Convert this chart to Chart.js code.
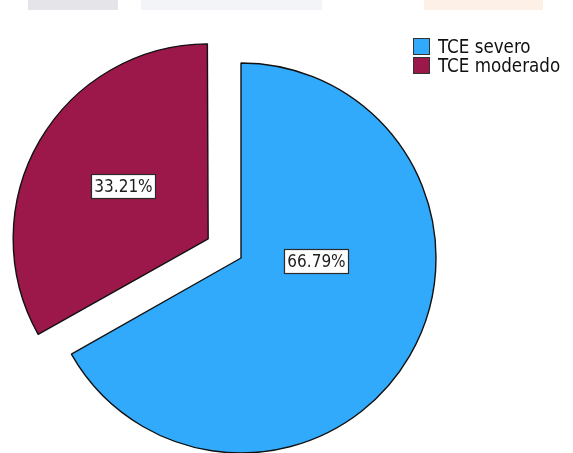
<!DOCTYPE html>
<html>
<head>
<meta charset="utf-8">
<script src="https://cdn.jsdelivr.net/npm/chart.js@4/dist/chart.umd.min.js"></script>
<style>
  html, body { margin: 0; padding: 0; background: #ffffff; }
  #wrap { position: relative; width: 573px; height: 453px; overflow: hidden; }
  canvas { position: absolute; left: 0; top: 0; }
  .band { position: absolute; top: 0; height: 10px; }
  .legend { position: absolute; left: 413px; top: 37px; font-family: "DejaVu Sans Condensed", "DejaVu Sans", sans-serif; font-stretch: condensed; font-size: 18.6px; color: #111; }
  .item { display: flex; align-items: center; height: 19px; white-space: nowrap; }
  .sw { width: 15px; height: 15px; border: 1px solid #333; margin-right: 8px; box-sizing: content-box; }
</style>
</head>
<body>
<div id="wrap">
  <div class="band" style="left:28px;width:90px;background:#e4e4e9;"></div>
  <div class="band" style="left:141px;width:181px;background:#f3f4f7;"></div>
  <div class="band" style="left:424px;width:119px;background:#fdf0e6;"></div>
  <canvas id="c" width="573" height="453"></canvas>
  <div class="legend" id="legend"></div>
</div>
<script>
const categories = ["TCE severo", "TCE moderado"];
const percentages = [66.79, 33.21];
const sliceColors = ["#31aafb", "#9c184a"];
const labelTexts = ["66.79%", "33.21%"];

// legend (HTML text)
const legendEl = document.getElementById('legend');
categories.forEach((c, i) => {
  const row = document.createElement('div');
  row.className = 'item';
  const sw = document.createElement('span');
  sw.className = 'sw';
  sw.style.background = sliceColors[i];
  const t = document.createElement('span');
  t.textContent = c;
  row.appendChild(sw); row.appendChild(t);
  legendEl.appendChild(row);
});

const explodePx = [0, 38];           // visual explode distance per slice
const labelRel = [[0.385, 0.015], [-0.449, -0.28]]; // label centre relative to slice centre, in radii

// Chart.js translates by offset/4 and enlarges radius by offset/4*fix; compensate radius
const explodeFix = {
  id: 'explodeFix',
  afterDatasetUpdate(chart, args) {
    const meta = chart.getDatasetMeta(args.index);
    meta.data.forEach((arc) => {
      const off = (arc.options.offset || 0) / 4;
      const fix = 1 - Math.sin(Math.min(Math.PI, arc.circumference || 0));
      arc.outerRadius -= off * fix;
    });
  }
};

const boxLabels = {
  id: 'boxLabels',
  afterDatasetsDraw(chart) {
    const ctx = chart.ctx;
    const meta = chart.getDatasetMeta(0);
    ctx.save();
    ctx.font = '17px "DejaVu Sans Condensed", "DejaVu Sans", sans-serif';
    ctx.textAlign = 'center';
    ctx.textBaseline = 'middle';
    meta.data.forEach((arc, i) => {
      const off = (arc.options.offset || 0) / 4;
      const half = (arc.startAngle + arc.endAngle) / 2;
      const cx = arc.x + Math.cos(half) * off;
      const cy = arc.y + Math.sin(half) * off;
      const r = arc.outerRadius;
      const lx = cx + labelRel[i][0] * r;
      const ly = cy + labelRel[i][1] * r;
      const txt = labelTexts[i];
      const w = Math.round(ctx.measureText(txt).width + 6);
      const h = 24;
      const bx = Math.round(lx - w / 2) + 0.5;
      const by = Math.round(ly - h / 2) + 0.5;
      ctx.fillStyle = '#ffffff';
      ctx.fillRect(bx, by, w, h);
      ctx.strokeStyle = '#2a2a2a';
      ctx.lineWidth = 1.2;
      ctx.strokeRect(bx, by, w, h);
      ctx.fillStyle = '#1e1e1e';
      ctx.fillText(txt, bx + w / 2, by + h / 2 + 1);
    });
    ctx.restore();
  }
};

new Chart(document.getElementById('c'), {
  type: 'pie',
  data: {
    labels: categories,
    datasets: [{
      data: percentages,
      backgroundColor: sliceColors,
      borderColor: '#111111',
      borderWidth: 1.4,
      offset: explodePx.map(v => v * 4),
      hoverOffset: 0,
      clip: false
    }]
  },
  options: {
    responsive: false,
    animation: false,
    radius: 195,
    layout: { padding: { left: 0, right: 91, top: 63, bottom: 0 } },
    plugins: {
      legend: { display: false },
      tooltip: { enabled: false },
      title: { display: false }
    },
    events: []
  },
  plugins: [explodeFix, boxLabels]
});
</script>
</body>
</html>
